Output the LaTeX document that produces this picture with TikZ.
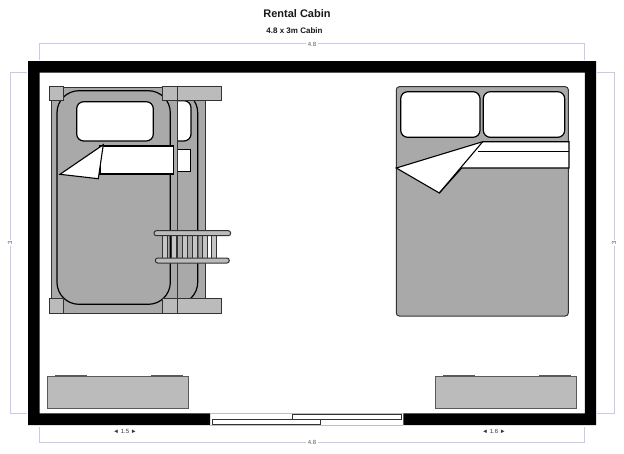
\documentclass[tikz,border=0pt]{standalone}
\usepackage{fontspec}
\setmainfont{Liberation Sans}
\definecolor{bedgray}{HTML}{A9A9A9}
\definecolor{postgray}{HTML}{BBBBBB}
\definecolor{dimline}{HTML}{C9C9EE}
\definecolor{edgegray}{HTML}{333333}
\tikzset{
  wall/.style={fill=black,draw=none},
  frame/.style={fill=bedgray,draw=edgegray,line width=0.9pt},
  post/.style={fill=postgray,draw=edgegray,line width=0.9pt},
  soft/.style={fill=bedgray,draw=black,line width=1.2pt,rounded corners=22pt},
  pillow/.style={fill=white,draw=black,line width=1.2pt,rounded corners=7pt},
  sheet/.style={fill=white,draw=black,line width=1.1pt,line join=miter},
  rail/.style={fill=postgray,draw=edgegray,line width=1pt,rounded corners=2.4pt},
  rung/.style={fill=postgray!85!white,draw=edgegray,line width=0.9pt},
  dresser/.style={fill=postgray,draw=black!65,line width=0.8pt},
  bump/.style={fill=gray,draw=black!65,line width=0.5pt},
  dim/.style={draw=dimline,line width=0.9pt},
  dimtext/.style={font=\fontsize{6}{7}\selectfont,text=black!65,fill=white,inner sep=1.5pt},
  panel/.style={fill=white,draw=black!80,line width=0.8pt},
  thin/.style={draw=black!25,line width=0.6pt}
}
\begin{document}
\begin{tikzpicture}[x=1pt,y=-1pt]
\useasboundingbox (0,0) rectangle (624,453);
\fill[white] (0,0) rectangle (624,453);
% titles
\node[font=\bfseries\fontsize{11}{12}\selectfont,text=black!90] (title) at (297,13.5) {Rental Cabin};
\node[font=\bfseries\fontsize{8}{9}\selectfont,text=black!90] (subtitle) at (294.5,31) {4.8 x 3m Cabin};
% dimension lines
\draw[dim] (39.5,60) -- (39.5,43.5) -- (584.5,43.5) -- (584.5,60);
\draw[dim] (27,72.5) -- (10,72.5) -- (10,413.5) -- (27,413.5);
\draw[dim] (597,72.5) -- (614,72.5) -- (614,413.5) -- (597,413.5);
\draw[dim] (39.5,427) -- (39.5,442.5) -- (584.5,442.5) -- (584.5,427);
\node[dimtext] (dimtop) at (312,44) {4.8};
\node[dimtext] (dimbottom) at (312,442.5) {4.8};
\node[dimtext,rotate=90] (dimleft) at (10,243) {3};
\node[dimtext,rotate=90] (dimright) at (614,243) {3};
\node[dimtext,text=black!80] (dimwallL) at (125,431) {◄ 1.5 ►};
\node[dimtext,text=black!80] (dimwallR) at (494,431) {◄ 1.6 ►};
% walls
\fill[wall] (28,61) -- (596,61) -- (596,425) -- (403.3,425) -- (403.3,413.3) -- (584.8,413.3) -- (584.8,72.5) -- (39.5,72.5) -- (39.5,413.3) -- (210,413.3) -- (210,425) -- (28,425) -- cycle;
% sliding door
\draw[thin] (210,413.5) -- (403.3,413.5);
\draw[thin] (210,425.4) -- (403.3,425.4);
\draw[panel] (292.3,414) rectangle (401,419);
\draw[panel] (212,419) rectangle (320.7,424.3);
% dressers
\draw[bump] (55,375) rectangle (86,377);
\draw[bump] (151,375) rectangle (182,377);
\draw[dresser] (47.7,376.8) rectangle (188,408.3);
\draw[bump] (443,375) rectangle (474,377);
\draw[bump] (539,375) rectangle (570,377);
\draw[dresser] (435.3,376.8) rectangle (576,408.3);
% double bed
\draw[fill=bedgray,draw=edgegray,line width=1pt,rounded corners=3pt] (396.3,86.7) rectangle (568.3,316);
\draw[pillow] (400.7,91.7) rectangle (480,137.3);
\draw[pillow] (483.3,91.7) rectangle (564.7,137.3);
\draw[sheet] (482.7,141.7) -- (569,141.7) -- (569,168) -- (461.7,168) -- (439.3,193) -- (396.3,168) -- cycle;
\draw[sheet] (478,151.3) -- (569,151.3);
\draw[sheet] (482.7,141.7) -- (439.3,193);
% lower bunk
\draw[frame] (177,88) rectangle (205,298);
\draw[soft] (80,90.7) rectangle (197.7,304.3);
\draw[pillow] (150,100.7) rectangle (191,141);
\draw[sheet,line width=1pt] (170,149) rectangle (190.7,171.3);
% upper bunk
\draw[frame] (51,88) rectangle (177,298);
\draw[frame] (63.7,87.3) rectangle (162.7,100);
\draw[frame] (63.7,298) rectangle (162.7,313);
\draw[soft] (57,90.7) rectangle (170.3,304.3);
\draw[pillow] (76.7,101.7) rectangle (153.3,141);
\draw[sheet] (100,146) rectangle (173.7,174);
\draw[sheet] (103.3,144.7) -- (60,174.3) -- (98.3,178.7) -- cycle;
% posts
\draw[post] (49,86) rectangle (63.7,100.7);
\draw[post] (162.7,86) rectangle (177,100.7);
\draw[post] (177,86) rectangle (221.7,100.7);
\draw[post] (49,298.3) rectangle (63.7,313);
\draw[post] (162.7,298.3) rectangle (177,313);
\draw[post] (177,298.3) rectangle (221.7,313);
% ladder
\foreach \rx in {162.3,171.9,182.3,192.3,202.3,211.7}
  \draw[rung] (\rx,235) rectangle (\rx+5,258.5);
\draw[rail] (154,230.7) rectangle (230.7,235.7);
\draw[rail] (155.3,258) rectangle (229.3,263);
\end{tikzpicture}
\end{document}
